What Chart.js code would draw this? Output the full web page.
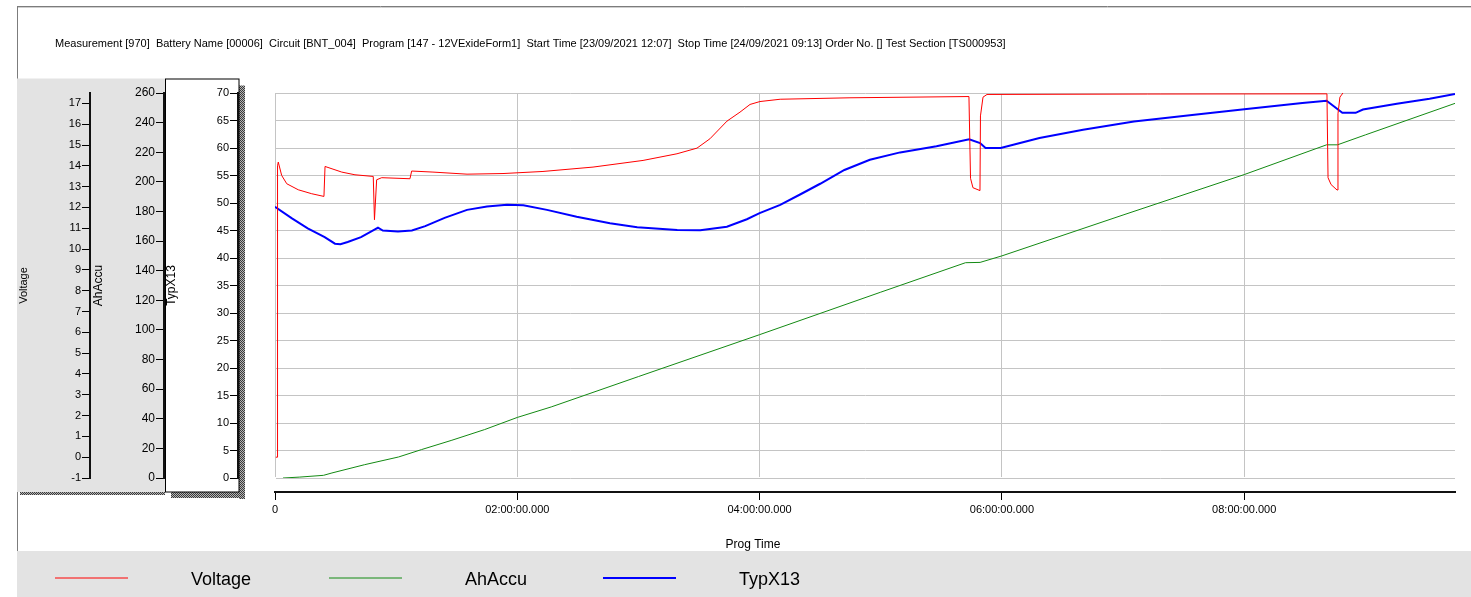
<!DOCTYPE html>
<html>
<head>
<meta charset="utf-8">
<script src="https://cdn.jsdelivr.net/npm/chart.js@4.4.1/dist/chart.umd.min.js"></script>
<style>
  html, body { margin: 0; padding: 0; background: #ffffff; }
  #wrap { position: relative; width: 1471px; height: 597px; }
</style>
</head>
<body>
<div id="wrap"><canvas id="chart"></canvas></div>
<script>
// ---- text ----
const headerText = 'Measurement [970]  Battery Name [00006]  Circuit [BNT_004]  Program [147 - 12VExideForm1]  Start Time [23/09/2021 12:07]  Stop Time [24/09/2021 09:13] Order No. [] Test Section [TS000953]';
const xAxisTitle = 'Prog Time';
const seriesNames = ['Voltage', 'AhAccu', 'TypX13'];
const seriesColors = ['#ff0000', '#138a13', '#0000ff'];
const seriesWidths = [1, 1, 2];

// ---- x axis (program time in hours) ----
const xTickHours = [0, 2, 4, 6, 8];
const xTickLabels = ['0', '02:00:00.000', '04:00:00.000', '06:00:00.000', '08:00:00.000'];
const xMaxHours = 9.74;

// ---- Voltage [V] ----
const voltageHours = [0.007, 0.019, 0.021, 0.027, 0.055, 0.097, 0.192, 0.303, 0.404, 0.413, 0.551, 0.66, 0.811,
  0.821, 0.839, 0.881, 1.114, 1.128, 1.304, 1.585, 1.882, 2.212, 2.625, 3.038, 3.318, 3.483, 3.59, 3.731, 3.838,
  3.921, 4.003, 4.17, 4.746, 5.728, 5.741, 5.761, 5.819, 5.823, 5.844, 5.877, 7.2, 8.683, 8.692, 8.717, 8.766,
  8.774, 8.79, 8.815, 8.85, 9.74];
const voltageValues = [0.0, 0.0, 14.0, 14.18, 13.54, 13.14, 12.85, 12.66, 12.53, 13.97, 13.70, 13.57, 13.49,
  11.41, 13.33, 13.43, 13.38, 13.75, 13.70, 13.60, 13.63, 13.73, 13.94, 14.26, 14.58, 14.85, 15.3, 16.15, 16.58,
  16.95, 17.09, 17.2, 17.27, 17.33, 13.4, 12.95, 12.81, 16.4, 17.3, 17.43, 17.45, 17.46, 13.43, 13.1, 12.84,
  16.5, 17.3, 17.5, 17.8, 17.8];

// ---- AhAccu [Ah] ----
const ahHours = [0.066, 0.2, 0.40, 0.47, 0.74, 1.02, 1.21, 1.46, 1.73, 2.0, 2.28, 3.0, 4.0, 5.0, 5.70, 5.82,
  6.0, 7.0, 8.0, 8.68, 8.77, 9.0, 9.74];
const ahValues = [0, 0.6, 1.8, 3.4, 9.0, 14.2, 19.2, 25.5, 32.7, 40.9, 48.0, 68.5, 96.8, 125.5, 145.4, 145.6,
  150.0, 177.6, 204.9, 225.0, 225.0, 231.7, 253.0];

// ---- TypX13 ----
const typHours = [0, 0.14, 0.27, 0.41, 0.495, 0.54, 0.60, 0.71, 0.825, 0.85, 0.89, 1.015, 1.13, 1.24, 1.40,
  1.585, 1.75, 1.915, 2.05, 2.245, 2.49, 2.765, 2.99, 3.32, 3.51, 3.73, 3.895, 4.0, 4.17, 4.33, 4.50, 4.70,
  4.91, 5.16, 5.46, 5.73, 5.82, 5.865, 5.99, 6.15, 6.31, 6.67, 7.09, 7.57, 8.02, 8.48, 8.68, 8.81, 8.92, 8.98,
  9.26, 9.53, 9.74];
const typValues = [49.3, 47.2, 45.4, 43.8, 42.6, 42.5, 42.9, 43.8, 45.2, 45.5, 45.0, 44.8, 45.0, 45.8, 47.3,
  48.75, 49.35, 49.66, 49.6, 48.75, 47.5, 46.3, 45.6, 45.1, 45.05, 45.7, 47.05, 48.15, 49.66, 51.5, 53.5, 56.0,
  57.85, 59.2, 60.3, 61.6, 60.9, 60.0, 60.0, 60.9, 61.8, 63.3, 64.8, 66.0, 67.1, 68.2, 68.6, 66.4, 66.4, 67.0,
  68.05, 68.96, 69.8];

const toPoints = (xs, ys) => xs.map((x, i) => ({ x: x, y: ys[i] }));

const FONT = '"Liberation Sans", Arial, sans-serif';

// 2x2 checker used for the panel drop shadows
function ditherPattern(ctx) {
  const c = document.createElement('canvas');
  c.width = 2; c.height = 2;
  const g = c.getContext('2d');
  g.fillStyle = '#b4b4b4'; g.fillRect(0, 0, 2, 2);
  g.fillStyle = '#3a3a3a'; g.fillRect(0, 0, 1, 1); g.fillRect(1, 1, 1, 1);
  return ctx.createPattern(c, 'repeat');
}

// Panels behind the axes, frame, legend band
const framePlugin = {
  id: 'frame',
  beforeDraw(chart) {
    const ctx = chart.ctx;
    const W = chart.width, H = chart.height;
    const sV = chart.scales.yV, sT = chart.scales.yT, sX = chart.scales.x;
    const top = chart.chartArea.top - 14.5;
    const bottom = sX.top;
    ctx.save();
    ctx.fillStyle = '#ffffff';
    ctx.fillRect(0, 0, W, H);

    // outer frame
    ctx.strokeStyle = '#7c7c7c';
    ctx.lineWidth = 1;
    ctx.beginPath();
    ctx.moveTo(sV.left, 6.5); ctx.lineTo(W, 6.5);
    ctx.moveTo(sV.left + 0.5, 6); ctx.lineTo(sV.left + 0.5, H);
    ctx.stroke();
    ctx.strokeStyle = '#cfcfcf';
    ctx.beginPath();
    ctx.moveTo(sV.left + 1, 7.5); ctx.lineTo(W, 7.5);
    ctx.stroke();

    const pat = ditherPattern(ctx);
    // grey panel holding the Voltage and AhAccu axes
    ctx.fillStyle = '#e3e3e3';
    ctx.fillRect(sV.left, top, sT.left + 1 - sV.left, bottom - top);
    ctx.fillStyle = pat;
    ctx.fillRect(sV.left + 3, bottom, sT.left - sV.left - 2, 3);

    // white box holding the TypX13 axis, with its shadow
    ctx.fillRect(sT.right + 1, top + 7, 6, bottom - top);
    ctx.fillRect(sT.left + 7, bottom, sT.right - sT.left, 6);
    ctx.fillStyle = '#ffffff';
    ctx.fillRect(sT.left + 1, top, sT.right - sT.left, bottom - top);
    ctx.strokeStyle = '#000000';
    ctx.strokeRect(sT.left + 1.5, top + 0.5, sT.right - sT.left - 0.5, bottom - top - 0.5);

    // legend band
    ctx.fillStyle = '#e3e3e3';
    ctx.fillRect(sV.left, sX.bottom, W - sV.left, H - sX.bottom);
    ctx.restore();
  },
  afterDraw(chart) {
    const ctx = chart.ctx;
    const sV = chart.scales.yV, sX = chart.scales.x;
    ctx.save();
    ctx.fillStyle = '#000000';
    ctx.textBaseline = 'middle';

    // header line
    ctx.font = '11px ' + FONT;
    ctx.textAlign = 'left';
    ctx.fillText(headerText, sV.left + 38, 43.5);

    // x axis caption
    ctx.font = '12px ' + FONT;
    ctx.textAlign = 'center';
    ctx.fillText(xAxisTitle, 753, sX.bottom - 6);

    // legend: sample line + series name
    const yMid = (sX.bottom + chart.height) / 2 + 4;
    ctx.font = '18px ' + FONT;
    ctx.textAlign = 'left';
    chart.data.datasets.forEach((ds, i) => {
      const x0 = sV.left + 38 + i * 274;
      ctx.strokeStyle = ds.borderColor;
      ctx.lineWidth = ds.borderWidth;
      ctx.beginPath();
      ctx.moveTo(x0, yMid); ctx.lineTo(x0 + 73, yMid);
      ctx.stroke();
      ctx.fillStyle = '#000000';
      ctx.fillText(ds.label, x0 + 136, yMid + 2);
    });
    ctx.restore();
  }
};

const tickFont = (size) => ({ family: FONT, size: size });

new Chart(document.getElementById('chart'), {
  type: 'line',
  data: {
    datasets: [
      { label: seriesNames[0], data: toPoints(voltageHours, voltageValues), xAxisID: 'x', yAxisID: 'yV',
        borderColor: seriesColors[0], borderWidth: seriesWidths[0], pointRadius: 0, tension: 0, fill: false },
      { label: seriesNames[1], data: toPoints(ahHours, ahValues), xAxisID: 'x', yAxisID: 'yAh',
        borderColor: seriesColors[1], borderWidth: seriesWidths[1], pointRadius: 0, tension: 0, fill: false },
      { label: seriesNames[2], data: toPoints(typHours, typValues), xAxisID: 'x', yAxisID: 'yT',
        borderColor: seriesColors[2], borderWidth: seriesWidths[2], pointRadius: 0, tension: 0, fill: false }
    ]
  },
  options: {
    responsive: true,
    maintainAspectRatio: false,
    animation: false,
    events: [],
    layout: { padding: { top: 93, left: 17, right: 16, bottom: 46 } },
    plugins: { legend: { display: false }, tooltip: { enabled: false }, title: { display: false } },
    scales: {
      x: {
        type: 'linear', axis: 'x', position: 'bottom', weight: 1,
        min: 0, max: xMaxHours,
        afterFit: (s) => { s.height = 59; },
        afterBuildTicks: (s) => { s.ticks = xTickHours.map(v => ({ value: v })); },
        ticks: {
          autoSkip: false, maxRotation: 0, minRotation: 0, padding: 3, color: '#000', font: tickFont(11),
          callback: (v) => { const i = xTickHours.indexOf(v); return i >= 0 ? xTickLabels[i] : ''; }
        },
        grid: { color: '#c4c4c4', lineWidth: 1, tickColor: '#000', tickLength: 8 },
        border: { display: true, color: '#111', width: 2 }
      },
      gapX: {
        type: 'linear', axis: 'x', position: 'bottom', weight: 0,
        afterFit: (s) => { s.height = 14; },
        ticks: { display: false }, grid: { display: false }, border: { display: false }
      },
      yT: {
        type: 'linear', axis: 'y', position: 'left', weight: 1,
        min: 0, max: 70,
        afterFit: (s) => { s.width = 74; },
        ticks: { stepSize: 5, includeBounds: false, padding: 1, color: '#000', font: tickFont(11) },
        grid: { color: '#c4c4c4', lineWidth: 1, tickColor: '#000', tickLength: 8, drawOnChartArea: true },
        border: { display: true, color: '#111', width: 2 },
        title: { display: true, text: seriesNames[2], color: '#000', font: tickFont(12), padding: 0 }
      },
      yAh: {
        type: 'linear', axis: 'y', position: 'left', weight: 2,
        min: 0, max: 260,
        afterFit: (s) => { s.width = 74; },
        ticks: { stepSize: 20, includeBounds: false, padding: 1, color: '#000', font: tickFont(12) },
        grid: { color: '#000', tickColor: '#000', tickLength: 8, drawOnChartArea: false },
        border: { display: true, color: '#111', width: 2 },
        title: { display: true, text: seriesNames[1], color: '#000', font: tickFont(12), padding: { top: 1 } }
      },
      yV: {
        type: 'linear', axis: 'y', position: 'left', weight: 3,
        min: -1, max: 17.5,
        afterFit: (s) => { s.width = 73; },
        ticks: { stepSize: 1, includeBounds: false, padding: 1, color: '#000', font: tickFont(11) },
        grid: { color: '#000', tickColor: '#000', tickLength: 8, drawOnChartArea: false },
        border: { display: true, color: '#111', width: 2 },
        title: { display: true, text: seriesNames[0], color: '#000', font: tickFont(11), padding: 0 }
      },
      gapY: {
        type: 'linear', axis: 'y', position: 'left', weight: 0,
        afterFit: (s) => { s.width = 37; },
        ticks: { display: false }, grid: { display: false }, border: { display: false }
      }
    }
  },
  plugins: [framePlugin]
});
</script>
</body>
</html>
